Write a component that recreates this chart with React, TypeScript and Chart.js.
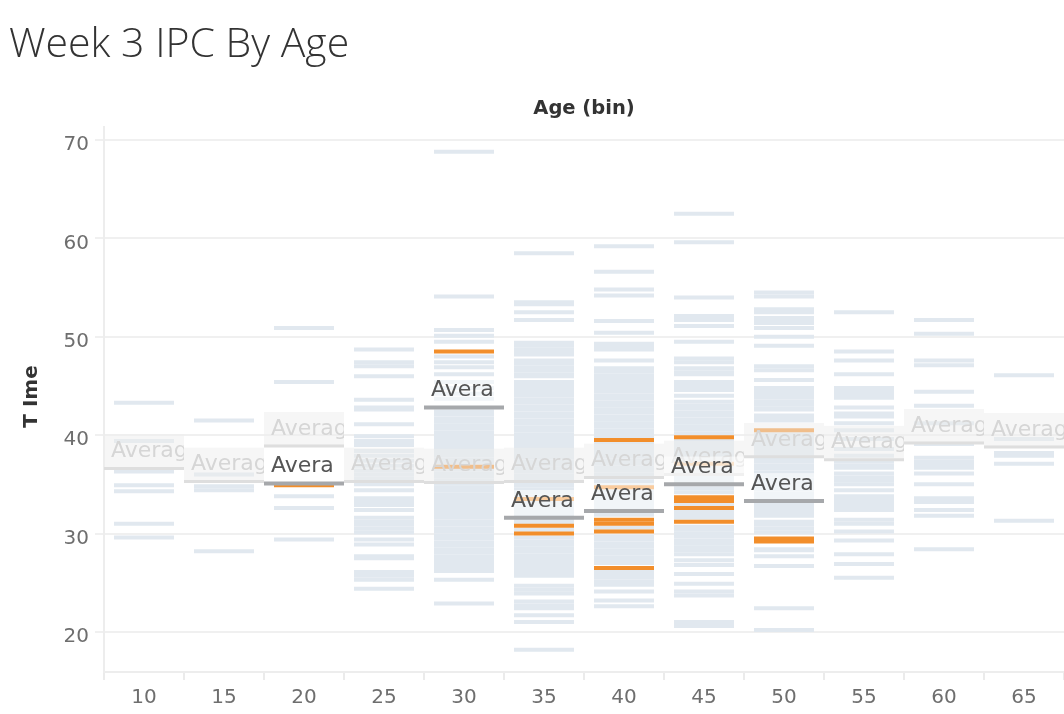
import React, { useEffect, useRef } from "react";
import { Chart, registerables } from "chart.js";

Chart.register(...registerables);

const FONT = '"DejaVu Sans", "Noto Sans", sans-serif';
const TITLE_FONT = '"Open Sans", "Noto Sans", sans-serif';

const BINS = ["10", "15", "20", "25", "30", "35", "40", "45", "50", "55", "60", "65"];
const Y_TICKS = [20, 30, 40, 50, 60, 70];

// light (non-highlighted) times per age bin
const LIGHT_10 = [43.3, 39.4, 36.3, 34.9, 34.3, 31.0, 29.6];
const LIGHT_15 = [41.5, 36.0, 34.8, 34.4, 28.2];
const LIGHT_20 = [50.9, 45.4, 33.8, 32.6, 29.4];
const LIGHT_25 = [48.7, 47.4, 47.0, 46.0, 43.6, 42.8, 42.6, 41.1, 39.9, 39.4, 39.0, 38.4, 37.9, 37.4, 36.9, 36.4, 36.0, 35.6, 35.0, 34.4, 33.6, 33.2, 32.9, 32.4, 31.6, 31.2, 30.9, 30.5, 30.1, 29.4, 28.9, 27.7, 27.5, 26.1, 25.7, 25.3, 24.4];
const LIGHT_30 = [68.8, 54.1, 50.7, 50.1, 49.5, 48.0, 47.4, 46.9, 46.2, 45.4, 44.8, 44.2, 43.7, 42.4, 42.1, 41.7, 41.4, 41.0, 40.7, 40.3, 40.0, 39.6, 39.3, 38.9, 38.6, 38.2, 37.9, 37.5, 37.2, 36.5, 36.1, 35.8, 35.4, 35.1, 34.7, 34.4, 34.0, 33.7, 33.3, 33.0, 32.6, 32.3, 31.9, 31.6, 31.2, 30.9, 30.5, 30.2, 29.8, 29.5, 29.1, 28.8, 28.4, 28.1, 27.7, 27.4, 27.0, 26.7, 26.3, 26.2, 25.3, 22.9];
const LIGHT_35 = [58.5, 53.5, 53.3, 52.5, 51.7, 49.4, 49.1, 48.7, 48.4, 48.2, 47.6, 47.3, 46.9, 46.6, 46.2, 46.0, 45.4, 45.0, 44.7, 44.3, 44.0, 43.6, 43.3, 42.9, 42.6, 42.2, 41.9, 41.5, 41.2, 40.8, 40.5, 40.1, 39.8, 39.4, 39.1, 38.7, 38.4, 38.0, 37.7, 37.3, 37.0, 36.6, 36.3, 35.9, 35.6, 35.2, 34.9, 34.5, 34.2, 33.8, 33.1, 32.8, 32.4, 32.1, 31.7, 31.4, 31.1, 30.4, 29.6, 29.2, 28.9, 28.5, 28.2, 27.8, 27.5, 27.1, 26.8, 26.4, 26.1, 25.7, 24.7, 24.3, 23.9, 23.1, 22.7, 22.4, 21.7, 21.0, 18.2];
const LIGHT_40 = [59.2, 56.6, 54.8, 54.2, 51.6, 50.4, 49.3, 49.0, 48.7, 47.6, 46.8, 46.5, 46.1, 45.8, 45.4, 45.1, 44.7, 44.4, 44.0, 43.7, 43.3, 43.0, 42.6, 42.3, 41.9, 41.6, 41.2, 40.9, 40.5, 40.2, 39.9, 39.2, 38.8, 38.5, 38.1, 37.8, 37.4, 37.1, 36.7, 36.4, 36.0, 35.7, 35.3, 35.0, 34.4, 34.0, 33.7, 33.3, 33.0, 32.6, 32.3, 31.9, 30.6, 29.7, 29.4, 29.0, 28.7, 28.3, 28.0, 27.6, 27.3, 27.0, 26.2, 25.8, 25.5, 25.1, 24.8, 24.1, 23.2, 22.6];
const LIGHT_45 = [62.5, 59.6, 54.0, 52.1, 51.7, 51.1, 49.5, 47.8, 47.4, 46.8, 46.4, 46.2, 45.4, 45.0, 44.6, 44.0, 43.4, 43.0, 42.7, 42.3, 42.0, 41.6, 41.3, 40.9, 40.6, 40.2, 39.5, 39.2, 38.8, 38.5, 38.1, 37.8, 37.5, 36.8, 36.4, 36.1, 35.7, 35.4, 34.6, 34.2, 33.0, 32.2, 31.9, 31.6, 30.7, 30.4, 30.0, 29.7, 29.3, 29.0, 28.6, 28.3, 27.9, 27.3, 26.8, 25.9, 24.9, 24.1, 23.7, 21.0, 20.6];
const LIGHT_50 = [54.5, 54.1, 52.8, 52.5, 51.9, 51.6, 51.4, 50.9, 50.0, 49.1, 47.0, 46.6, 45.6, 44.8, 44.5, 44.1, 43.8, 43.4, 43.1, 42.7, 42.6, 42.0, 41.7, 41.5, 40.1, 39.7, 39.4, 39.0, 38.7, 38.3, 38.0, 37.6, 37.3, 36.9, 36.6, 36.2, 35.9, 35.5, 35.2, 34.8, 34.5, 34.1, 33.8, 33.4, 32.9, 32.5, 32.2, 31.8, 31.2, 30.9, 30.5, 30.1, 28.4, 28.3, 27.7, 26.7, 22.4, 20.2];
const LIGHT_55 = [52.5, 48.5, 47.6, 46.2, 44.8, 44.4, 44.1, 43.8, 42.8, 42.2, 41.9, 41.2, 40.5, 39.6, 38.6, 37.9, 37.3, 36.9, 36.7, 36.1, 35.7, 35.4, 35.0, 34.4, 33.8, 33.4, 33.1, 32.7, 32.4, 31.4, 31.0, 30.2, 29.3, 27.9, 26.9, 25.5];
const LIGHT_60 = [51.7, 50.3, 47.6, 47.1, 44.4, 43.0, 41.2, 39.1, 37.7, 37.3, 37.0, 36.7, 36.1, 35.0, 33.6, 33.2, 32.4, 31.8, 28.4];
const LIGHT_65 = [46.1, 39.6, 38.2, 37.9, 37.1, 31.3];

// highlighted (orange) times per age bin
const ORANGE_20 = [34.9];
const ORANGE_30 = [48.5, 36.8];
const ORANGE_35 = [33.5, 30.8, 30.0];
const ORANGE_40 = [39.5, 34.7, 31.4, 31.0, 30.2, 26.5];
const ORANGE_45 = [39.8, 37.1, 33.7, 33.3, 32.6, 31.2];
const ORANGE_50 = [40.5, 29.5, 29.2];

// average reference lines
const AVG_ALL = [36.6, 35.3, 38.9, 35.3, 35.2, 35.3, 35.7, 36.0, 37.8, 37.5, 39.2, 38.8];
const AVG_HIGHLIGHT = [null, null, 35.1, null, 42.8, 31.6, 32.3, 35.0, 33.3, null, null, null];

const LIGHT_BY_BIN = [LIGHT_10, LIGHT_15, LIGHT_20, LIGHT_25, LIGHT_30, LIGHT_35, LIGHT_40, LIGHT_45, LIGHT_50, LIGHT_55, LIGHT_60, LIGHT_65];
const ORANGE_BY_BIN: (number[] | null)[] = [null, null, ORANGE_20, null, ORANGE_30, ORANGE_35, ORANGE_40, ORANGE_45, ORANGE_50, null, null, null];

function toPoints(lists: (number[] | null)[]) {
  const pts: { x: string; y: number }[] = [];
  lists.forEach((list, i) => {
    if (!list) return;
    list.forEach((v) => pts.push({ x: BINS[i], y: v }));
  });
  return pts;
}

function avgPoints(vals: (number | null)[]) {
  const pts: { x: string; y: number }[] = [];
  vals.forEach((v, i) => {
    if (v !== null) pts.push({ x: BINS[i], y: v });
  });
  return pts;
}

const avgLabelPlugin = {
  id: "avgLabels",
  beforeDatasetDraw(chart: any, args: any) {
    const ds = chart.data.datasets[args.index];
    const kind = ds.avgKind;
    if (!kind) return;
    const ctx = chart.ctx;
    const xs = chart.scales.x;
    const half = (xs.getPixelForValue(1) - xs.getPixelForValue(0)) / 2;
    args.meta.data.forEach((el: any) => {
      const cx = el.x;
      const cy = el.y;
      const top = kind === "all" ? cy - 34 : cy - 28;
      const h = kind === "all" ? 35 : 26;
      ctx.save();
      ctx.beginPath();
      ctx.rect(cx - half, top, half * 2, h);
      ctx.clip();
      ctx.fillStyle = kind === "all" ? "rgba(238,238,238,0.5)" : "rgba(255,255,255,0.55)";
      ctx.fillRect(cx - half, top, half * 2, h);
      ctx.font = `22px ${FONT}`;
      ctx.textBaseline = "middle";
      ctx.textAlign = "left";
      ctx.fillStyle = kind === "all" ? "#d6d6d6" : "#555555";
      ctx.fillText(kind === "all" ? "Average" : "Avera", cx - half + 7, cy - 17);
      ctx.restore();
    });
  },
};

const textPlugin = {
  id: "texts",
  afterDraw(chart: any) {
    const ctx = chart.ctx;
    ctx.save();
    ctx.fillStyle = "#333333";
    ctx.textAlign = "left";
    ctx.textBaseline = "alphabetic";
    ctx.font = `300 41px ${TITLE_FONT}`;
    ctx.fillText("Week 3 IPC By Age", 9, 57);
    ctx.font = `bold 19.5px ${FONT}`;
    ctx.textAlign = "center";
    ctx.textBaseline = "middle";
    const ca = chart.chartArea;
    ctx.fillText("Age (bin)", (ca.left + ca.right) / 2, 109);
    ctx.translate(32, (ca.top + ca.bottom) / 2 - 3);
    ctx.rotate(-Math.PI / 2);
    ctx.font = `bold 20px ${FONT}`;
    ctx.fillText("T Ime", 0, 0);
    ctx.restore();
  },
};

export default function App() {
  const ref = useRef<HTMLCanvasElement | null>(null);
  useEffect(() => {
    document.body.style.margin = "0";
    if (!ref.current) return;
    const tick = (data: any, color: string, order: number, r: number, w: number, extra: any = {}) => ({
      data,
      order,
      pointStyle: "line",
      pointRadius: r,
      pointHoverRadius: r,
      pointBorderWidth: w,
      pointHoverBorderWidth: w,
      pointBorderColor: color,
      pointBackgroundColor: color,
      showLine: false,
      ...extra,
    });
    const chart = new Chart(ref.current, {
      type: "scatter",
      data: {
        datasets: [
          tick(toPoints(LIGHT_BY_BIN), "#e1e8ef", 5, 30, 4) as any,
          tick(toPoints(ORANGE_BY_BIN), "#f28e2b", 4, 30, 4) as any,
          tick(avgPoints(AVG_ALL), "#dedede", 3, 40, 3, { avgKind: "all" }) as any,
          tick(avgPoints(AVG_HIGHLIGHT), "#a6a8ab", 2, 40, 4, { avgKind: "hl" }) as any,
        ],
      },
      options: {
        animation: false,
        responsive: false,
        events: [],
        layout: { autoPadding: false, padding: { top: 127, left: 0, right: 0, bottom: 0 } },
        plugins: { legend: { display: false }, tooltip: { enabled: false } },
        scales: {
          x: {
            type: "category",
            labels: BINS,
            offset: true,
            grid: { offset: true, drawOnChartArea: false, tickLength: 8, color: "#ebebeb", lineWidth: 2 },
            border: { color: "#ededed", width: 2 },
            ticks: { font: { family: FONT, size: 20 }, color: "#6e6e6e", padding: 6, maxRotation: 0, autoSkip: false },
            afterFit: (s: any) => { s.height = 42; },
          },
          y: {
            type: "linear",
            min: 15.93,
            max: 71.32,
            grid: { color: "#f0f0f0", lineWidth: 2, tickLength: 9 },
            border: { color: "#ededed", width: 2 },
            ticks: { font: { family: FONT, size: 20 }, color: "#6e6e6e", padding: 6, labelOffset: 5 },
            afterBuildTicks: (s: any) => { s.ticks = Y_TICKS.map((v) => ({ value: v })); },
            afterFit: (s: any) => { s.width = 104; },
          },
        },
      },
      plugins: [avgLabelPlugin, textPlugin],
    });
    return () => chart.destroy();
  }, []);
  return (
    <div style={{ width: 1064, height: 714 }}>
      <canvas ref={ref} width={1064} height={714} style={{ display: "block" }} />
    </div>
  );
}
